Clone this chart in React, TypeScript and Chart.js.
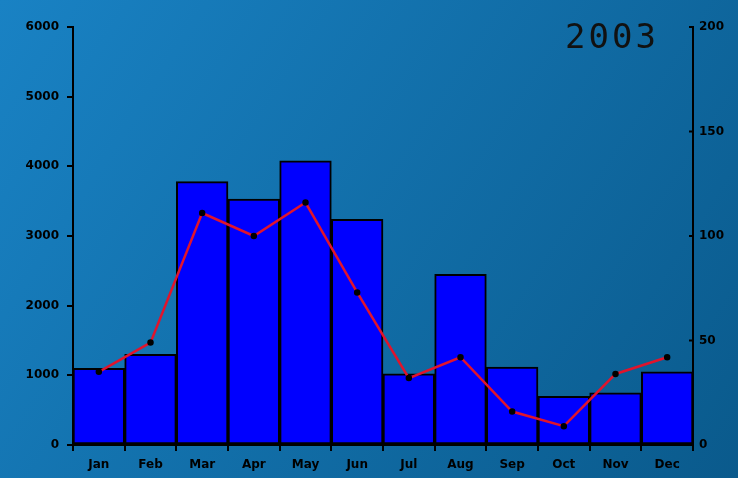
import React, { useEffect, useRef } from "react";
import { Chart, registerables } from "chart.js";

Chart.register(...registerables);

const months = ["Jan", "Feb", "Mar", "Apr", "May", "Jun", "Jul", "Aug", "Sep", "Oct", "Nov", "Dec"];
const barValues = [1100, 1300, 3780, 3530, 4080, 3240, 1020, 2450, 1120, 700, 750, 1050];
const lineValues = [35, 49, 111, 100, 116, 73, 32, 42, 16, 9, 34, 42];
const yearLabel = "2003";

export default function App() {
  const ref = useRef<HTMLCanvasElement>(null);
  useEffect(() => {
    document.body.style.margin = "0";
    const bg = {
      id: "bg",
      beforeDraw(chart: any) {
        const { ctx, width, height } = chart;
        const g = ctx.createLinearGradient(0, 0, width, height);
        g.addColorStop(0, "#1982c4");
        g.addColorStop(1, "#0a5a8c");
        ctx.save();
        ctx.fillStyle = g;
        ctx.fillRect(0, 0, width, height);
        ctx.restore();
      },
      afterDraw(chart: any) {
        const { ctx } = chart;
        const y1 = chart.scales.y1;
        ctx.save();
        ctx.strokeStyle = "#000";
        ctx.lineWidth = 2;
        y1.ticks.forEach((t: any) => {
          const py = y1.getPixelForValue(t.value);
          ctx.beginPath();
          ctx.moveTo(y1.left - 4, py);
          ctx.lineTo(y1.left, py);
          ctx.stroke();
        });
        ctx.fillStyle = "#111";
        ctx.font = "34px 'DejaVu Sans Mono'";
        (ctx as any).letterSpacing = "3px";
        ctx.textAlign = "left";
        ctx.textBaseline = "top";
        ctx.fillText(yearLabel, 565, 22);
        ctx.restore();
      },
    };
    const tickFont = { size: 12, weight: "bold", family: "DejaVu Sans" };
    const chart = new Chart(ref.current!, {
      type: "bar",
      data: {
        labels: months,
        datasets: [
          {
            type: "line",
            data: lineValues,
            yAxisID: "y1",
            borderColor: "#e0142c",
            borderWidth: 2.5,
            pointRadius: 2,
            pointBackgroundColor: "#000",
            pointBorderColor: "#000",
            tension: 0,
            order: 0,
          } as any,
          {
            type: "bar",
            data: barValues,
            yAxisID: "y",
            backgroundColor: "#0000ff",
            borderColor: "#000",
            borderWidth: 2,
            borderSkipped: false,
            categoryPercentage: 1,
            barPercentage: 1,
            order: 1,
          },
        ],
      },
      options: {
        responsive: false,
        animation: false,
        layout: { padding: { top: 27, left: 0, right: 0, bottom: 0 } },
        plugins: { legend: { display: false }, tooltip: { enabled: false } },
        scales: {
          x: {
            grid: { display: true, drawOnChartArea: false, color: "#000", lineWidth: 2, tickLength: 6 },
            border: { display: true, color: "#000", width: 2 },
            ticks: { color: "#000", font: tickFont, padding: 7, maxRotation: 0 },
            afterFit(s: any) { s.height = 33; },
          },
          y: {
            position: "left",
            min: 0,
            max: 6000,
            ticks: { stepSize: 1000, color: "#000", font: tickFont, padding: 8, callback: (v: any) => String(v) },
            grid: { display: true, drawOnChartArea: false, color: "#000", lineWidth: 2, tickLength: 6 },
            border: { display: true, color: "#000", width: 2 },
            afterFit(s: any) { s.width = 73; },
          },
          y1: {
            position: "right",
            min: 0,
            max: 200,
            ticks: { stepSize: 50, color: "#000", font: tickFont, padding: 6, callback: (v: any) => String(v) },
            grid: { display: true, drawOnChartArea: false, drawTicks: false, color: "#000" },
            border: { display: true, color: "#000", width: 2 },
            afterFit(s: any) { s.width = 45; },
          },
        },
      } as any,
      plugins: [bg],
    });
    return () => chart.destroy();
  }, []);
  return <canvas ref={ref} width={738} height={478} style={{ display: "block" }} />;
}
